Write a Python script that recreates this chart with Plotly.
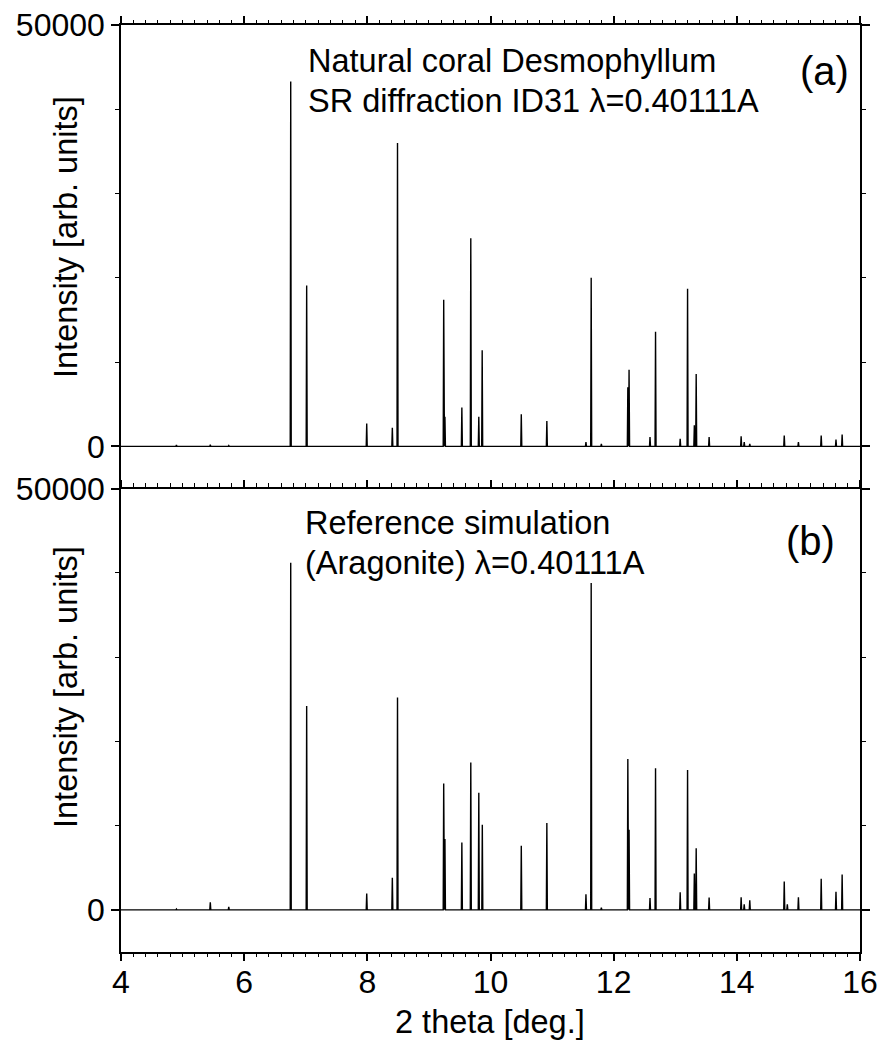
import plotly.graph_objects as go

# ---------------- data ----------------
# Panel (a): measured coral pattern (peak position [deg], peak height [counts])
pos_a = [4.90, 5.45, 5.75, 6.756, 7.015, 7.99, 8.406, 8.49, 9.24, 9.26, 9.535, 9.68,
         9.81, 9.865, 10.50, 10.915, 11.55, 11.635, 11.80, 12.23, 12.25, 12.59,
         12.68, 13.08, 13.20, 13.31, 13.34, 13.55, 14.07, 14.12, 14.21, 14.77,
         15.00, 15.37, 15.61, 15.71]
int_a = [150, 200, 100, 43300, 19100, 2700, 2200, 36000, 17400, 3500, 4600, 24700,
         3500, 11400, 3800, 3000, 500, 20000, 300, 7000, 9100, 1100,
         13600, 900, 18700, 2500, 8600, 1100, 1200, 500, 300, 1300,
         500, 1300, 800, 1400]

# Panel (b): simulated aragonite pattern
pos_b = [4.90, 5.45, 5.75, 6.756, 7.015, 7.99, 8.406, 8.49, 9.24, 9.26, 9.535, 9.68,
         9.81, 9.867, 10.50, 10.915, 11.55, 11.635, 11.80, 12.23, 12.25, 12.59,
         12.68, 13.08, 13.20, 13.31, 13.34, 13.55, 14.07, 14.12, 14.21, 14.77,
         14.82, 15.00, 15.37, 15.61, 15.71]
int_b = [100, 900, 350, 41200, 24200, 1950, 3800, 25200, 15000, 8400, 8000, 17500,
         13900, 10100, 7600, 10300, 1850, 38800, 250, 17900, 9500, 1400,
         16800, 2100, 16600, 4300, 7300, 1450, 1500, 650, 1150, 3350,
         650, 1500, 3700, 2150, 4200]

x_range = [4, 16]
y_range = [-5000, 50000]
x_tick_vals = [4, 6, 8, 10, 12, 14, 16]
y_tick_vals = [0, 50000]

labels_a = ["Natural coral Desmophyllum", "SR diffraction ID31 \u03bb=0.40111A", "(a)"]
labels_b = ["Reference simulation", "(Aragonite) \u03bb=0.40111A", "(b)"]
y_title = "Intensity [arb. units]"
x_title = "2 theta [deg.]"


def stick_profile(pos, hts, w=0.008):
    xs, ys = [x_range[0]], [0]
    for p, h in zip(pos, hts):
        xs += [p - w, p, p + w]
        ys += [0, h, 0]
    xs.append(x_range[1])
    ys.append(0)
    return xs, ys


xa, ya = stick_profile(pos_a, int_a)
xb, yb = stick_profile(pos_b, int_b)

FONT = "Liberation Sans, Arial, sans-serif"
FS = 32
FS_TXT = 32.5

fig = go.Figure()
fig.add_trace(go.Scatter(x=xa, y=ya, xaxis="x", yaxis="y", mode="lines",
                         line=dict(color="black", width=1.4), showlegend=False))
fig.add_trace(go.Scatter(x=xb, y=yb, xaxis="x2", yaxis="y2", mode="lines",
                         line=dict(color="black", width=1.4), showlegend=False))

common_y = dict(range=y_range, tickmode="array", tickvals=y_tick_vals,
                ticktext=[str(v) for v in y_tick_vals], automargin=False,
                ticks="outside", ticklen=8, tickwidth=1.5, tickcolor="black",
                showline=True, linecolor="black", linewidth=1.5, mirror="ticks",
                showgrid=False, zeroline=False,
                minor=dict(tickmode="array", tickvals=[10000, 20000, 30000, 40000],
                           ticks="outside", ticklen=4, tickwidth=1, tickcolor="black",
                           showgrid=False),
                tickfont=dict(family=FONT, size=FS, color="black"))

common_x = dict(range=x_range, tickmode="array", tickvals=x_tick_vals, automargin=False,
                ticks="outside", ticklen=7, tickwidth=1.5, tickcolor="black",
                showline=True, linecolor="black", linewidth=1.5,
                showgrid=False, zeroline=False,
                minor=dict(dtick=0.2, tick0=4, ticks="outside", ticklen=3.5,
                           tickwidth=1, tickcolor="black", showgrid=False),
                tickfont=dict(family=FONT, size=FS, color="black"))

fig.update_layout(
    width=881, height=1047,
    margin=dict(l=121, r=21, t=25, b=95),
    paper_bgcolor="white", plot_bgcolor="white",
    font=dict(family=FONT, size=FS, color="black"),
    xaxis=dict(common_x, domain=[0, 1], anchor="y", side="top",
               showticklabels=False, mirror=False),
    yaxis=dict(common_y, domain=[0.5, 1], anchor="x"),
    xaxis2=dict(common_x, domain=[0, 1], anchor="y2", side="bottom",
                showticklabels=True, mirror="ticks", ticklabelstandoff=-6),
    yaxis2=dict(common_y, domain=[0, 0.5], anchor="x2"),
)


def px_x(px):
    return (px - 121) / 739.0


def px_y(py):
    return (952 - py) / 927.0


ann = []
ann.append(dict(text=labels_a[0], x=px_x(306), y=px_y(61), xanchor="left", yanchor="middle"))
ann.append(dict(text=labels_a[1], x=px_x(306), y=px_y(101), xanchor="left", yanchor="middle"))
ann.append(dict(text=labels_a[2], x=px_x(851), y=px_y(71), xanchor="right", yanchor="middle",
                font=dict(family=FONT, size=40, color="black")))
ann.append(dict(text=labels_b[0], x=px_x(303), y=px_y(523), xanchor="left", yanchor="middle"))
ann.append(dict(text=labels_b[1], x=px_x(303), y=px_y(563), xanchor="left", yanchor="middle"))
ann.append(dict(text=labels_b[2], x=px_x(837), y=px_y(541), xanchor="right", yanchor="middle",
                font=dict(family=FONT, size=40, color="black")))
ann.append(dict(text=y_title, x=px_x(66), y=px_y(237), textangle=-90,
                xanchor="center", yanchor="middle"))
ann.append(dict(text=y_title, x=px_x(66), y=px_y(687), textangle=-90,
                xanchor="center", yanchor="middle"))
ann.append(dict(text=x_title, x=px_x(490), y=px_y(1022), xanchor="center", yanchor="middle"))

for a in ann:
    a.update(xref="paper", yref="paper", showarrow=False)
    a.setdefault("font", dict(family=FONT, size=FS_TXT, color="black"))

fig.update_layout(annotations=ann)

fig.write_html("out.html")
